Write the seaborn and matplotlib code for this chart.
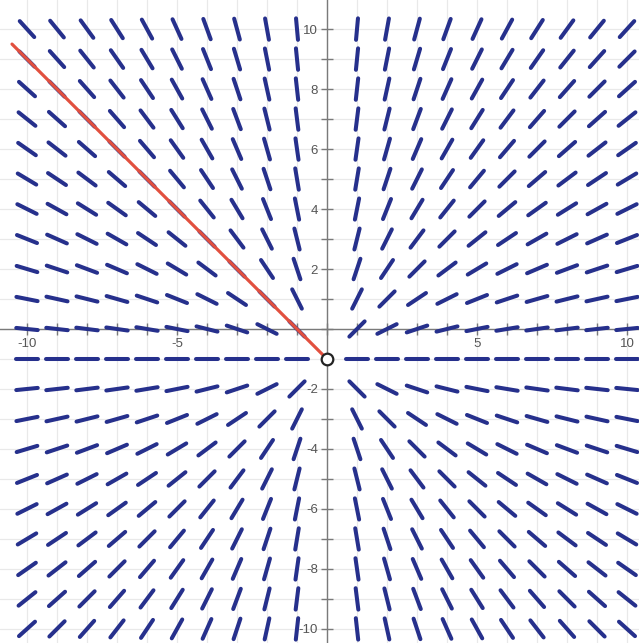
import numpy as np
import pandas as pd
import matplotlib
matplotlib.use("Agg")
import matplotlib.pyplot as plt
import seaborn as sns
from matplotlib.ticker import FixedLocator, FuncFormatter

# Sample points of the direction field dy/dx = (y + 1) / x  (x = 0 is excluded)
grid_x = [-10, -9, -8, -7, -6, -5, -4, -3, -2, -1, 1, 2, 3, 4, 5, 6, 7, 8, 9, 10]
grid_y = [-10, -9, -8, -7, -6, -5, -4, -3, -2, -1, 0, 1, 2, 3, 4, 5, 6, 7, 8, 9, 10]

# Solution curve ending at the singular point (0, -1)
curve_x = [-10.5, 0.0]
curve_y = [9.5, -1.0]
point_x = [0.0]
point_y = [-1.0]

# Axis tick labels
x_tick_labels = {-10: "-10", -5: "-5", 5: "5", 10: "10"}
y_tick_labels = {10: "10", 8: "8", 6: "6", 4: "4", 2: "2",
                 -2: "-2", -4: "-4", -6: "-6", -8: "-8", -10: "-10"}


def slope(x, y):
    return (y + 1.0) / x


half_len = 0.36
rows = []
seg = 0
for xv in grid_x:
    for yv in grid_y:
        m = slope(xv, yv)
        dx = half_len / np.sqrt(1.0 + m * m)
        dy = m * dx
        rows.append({"seg": seg, "x": xv - dx, "y": yv - dy})
        rows.append({"seg": seg, "x": xv + dx, "y": yv + dy})
        seg += 1
segments = pd.DataFrame(rows)

sns.set_theme(style="white")
plt.rcParams["font.family"] = ["Liberation Sans", "DejaVu Sans"]

fig = plt.figure(figsize=(6.39, 6.43), dpi=100)
ax = fig.add_axes([0, 0, 1, 1])

sns.lineplot(data=segments, x="x", y="y", units="seg", estimator=None,
             sort=False, color="#26308c", linewidth=2.9,
             solid_capstyle="round", legend=False, ax=ax)
for ln in ax.lines:
    ln.set_zorder(3)

n_before = len(ax.lines)
sns.lineplot(x=curve_x, y=curve_y, estimator=None, sort=False,
             color="#e2503f", linewidth=2.3, ax=ax)
for ln in ax.lines[n_before:]:
    ln.set_zorder(4)

sns.scatterplot(x=point_x, y=point_y, s=70, color="white",
                edgecolor="#222222", linewidth=1.6, ax=ax, zorder=5)

ax.set_xlim(-10.9, 10.4)
ax.set_ylim(-10.47, 10.97)
ax.set_xlabel("")
ax.set_ylabel("")

# Axes crossing at the origin
for side in ("top", "right"):
    ax.spines[side].set_visible(False)
for side in ("left", "bottom"):
    ax.spines[side].set_position(("data", 0))
    ax.spines[side].set_color("#7a7a7a")
    ax.spines[side].set_linewidth(1.0)
    ax.spines[side].set_zorder(2)

ticks = list(range(-10, 11))
ax.xaxis.set_major_locator(FixedLocator(ticks))
ax.yaxis.set_major_locator(FixedLocator(ticks))
ax.xaxis.set_major_formatter(FuncFormatter(lambda v, p: x_tick_labels.get(int(round(v)), "")))
ax.yaxis.set_major_formatter(FuncFormatter(lambda v, p: y_tick_labels.get(int(round(v)), "")))
ax.tick_params(direction="inout", length=9, width=1.0, color="#7a7a7a",
               labelsize=9.5, labelcolor="#555555", pad=2,
               bottom=True, left=True)

ax.grid(True, color="#e9e9e9", linewidth=0.9)
ax.set_axisbelow(True)

fig.savefig("out.png", dpi=100)
